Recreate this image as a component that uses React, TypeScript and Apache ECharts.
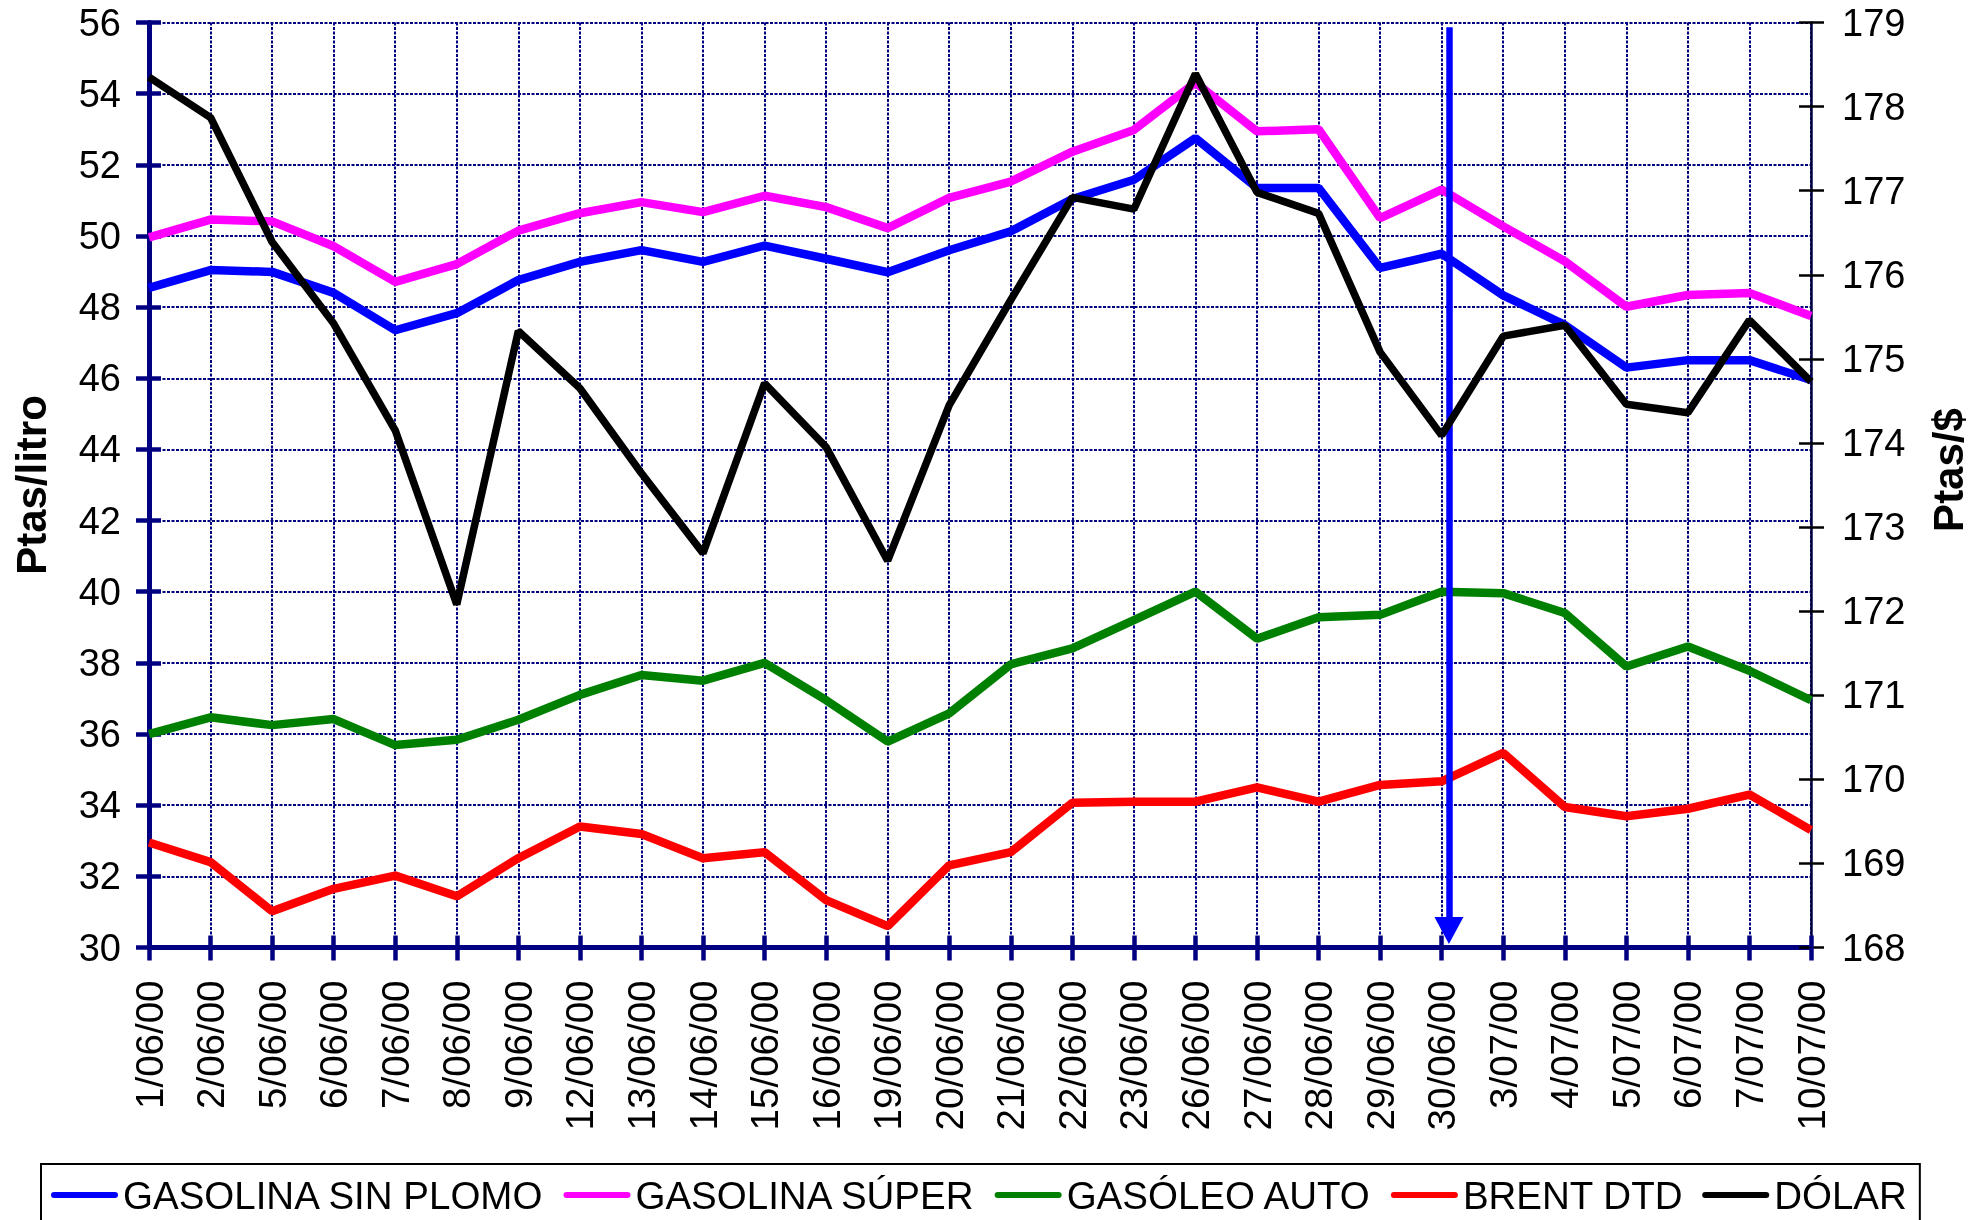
import React, { useEffect, useRef } from "react";
import * as echarts from "echarts";

const categories = ["1/06/00","2/06/00","5/06/00","6/06/00","7/06/00","8/06/00","9/06/00","12/06/00","13/06/00","14/06/00","15/06/00","16/06/00","19/06/00","20/06/00","21/06/00","22/06/00","23/06/00","26/06/00","27/06/00","28/06/00","29/06/00","30/06/00","3/07/00","4/07/00","5/07/00","6/07/00","7/07/00","10/07/00"];

const sinPlomo = [48.54, 49.04, 48.99, 48.40, 47.35, 47.83, 48.76, 49.27, 49.60, 49.27, 49.73, 49.36, 48.98, 49.60, 50.13, 51.04, 51.58, 52.75, 51.35, 51.35, 49.10, 49.50, 48.33, 47.50, 46.30, 46.51, 46.51, 45.95];
const superG = [49.96, 50.46, 50.41, 49.71, 48.71, 49.21, 50.15, 50.64, 50.95, 50.67, 51.13, 50.81, 50.22, 51.07, 51.53, 52.37, 52.98, 54.31, 52.94, 53.00, 50.50, 51.30, 50.27, 49.29, 48.01, 48.34, 48.40, 47.75];
const gasoleo = [36.0, 36.47, 36.25, 36.42, 35.69, 35.84, 36.40, 37.10, 37.66, 37.50, 38.0, 36.95, 35.79, 36.58, 37.96, 38.41, 39.20, 40.0, 38.68, 39.28, 39.35, 40.0, 39.96, 39.40, 37.90, 38.46, 37.78, 36.95];
const brent = [32.95, 32.40, 31.02, 31.65, 32.02, 31.44, 32.51, 33.40, 33.19, 32.51, 32.68, 31.33, 30.60, 32.31, 32.68, 34.07, 34.10, 34.10, 34.50, 34.10, 34.57, 34.67, 35.47, 33.95, 33.69, 33.90, 34.30, 33.30];
const dolar = [178.35, 177.87, 176.39, 175.42, 174.15, 172.08, 175.33, 174.65, 173.64, 172.69, 174.71, 173.95, 172.60, 174.45, 175.70, 176.92, 176.78, 178.39, 176.98, 176.73, 175.08, 174.09, 175.27, 175.40, 174.46, 174.36, 175.46, 174.73];

const seriesNames = ["GASOLINA SIN PLOMO", "GASOLINA SÚPER", "GASÓLEO AUTO", "BRENT DTD", "DÓLAR"];
const seriesColors = ["#0000FF", "#FF00FF", "#008000", "#FF0000", "#000000"];

const leftMin = 30, leftMax = 56, leftInterval = 2;
const rightMin = 168, rightMax = 179, rightInterval = 1;
// arrow marks the date 30/06/00, drawn slightly to the right of its tick
const arrowCategory = 21;
const arrowShift = 0.118;
const arrowTop = 55.87;

const FONT = "'Liberation Sans', Arial, sans-serif";
const NAVY = "#000080";
const LEGEND_ICON = "path://M3,0 H64 A3,3 0 0 1 64,6 H3 A3,3 0 0 1 3,0 Z";

export default function App() {
  const ref = useRef<HTMLDivElement>(null);
  useEffect(() => {
    if (!ref.current) return;
    const chart = echarts.init(ref.current, null, { renderer: "svg" });
    const gridPos = { left: 149, right: 175, top: 22.5, bottom: 272.5, containLabel: false };
    const values = [sinPlomo, superG, gasoleo, brent, dolar];
    const series: any[] = values.map((d, i) => ({
      name: seriesNames[i],
      type: "line",
      data: d,
      xAxisIndex: 0,
      yAxisIndex: i === 4 ? 1 : 0,
      symbol: "none",
      showSymbol: false,
      lineStyle: { color: seriesColors[i], width: i === 4 ? 7.5 : 8.5 },
      emphasis: { disabled: true },
      itemStyle: { color: seriesColors[i] },
      z: i === 4 ? 5 : 3,
    }));
    const grid = { color: NAVY, width: 2, type: [3, 1.5] };
    chart.setOption({
      animation: false,
      textStyle: { fontFamily: FONT },
      grid: [gridPos, gridPos],
      legend: {
        left: 41,
        top: 1164,
        orient: "horizontal",
        icon: LEGEND_ICON,
        itemWidth: 67,
        itemHeight: 7,
        itemGap: 19,
        padding: [11, 13, 30, 10],
        borderColor: "#000",
        borderWidth: 2,
        backgroundColor: "#fff",
        data: seriesNames,
        textStyle: { fontFamily: FONT, fontSize: 38.5, color: "#000", lineHeight: 40 },
      },
      xAxis: [
        {
          type: "category",
          gridIndex: 0,
          data: categories,
          boundaryGap: false,
          position: "bottom",
          axisLine: { show: true, lineStyle: { color: NAVY, width: 5 } },
          axisTick: { show: true, inside: false, length: 13, lineStyle: { color: NAVY, width: 4.5 } },
          axisLabel: { rotate: 90, fontSize: 38.5, color: "#000", margin: 33, interval: 0, fontFamily: FONT },
          splitLine: { show: true, lineStyle: grid },
        },
        {
          type: "category",
          gridIndex: 1,
          data: categories,
          boundaryGap: false,
          position: "bottom",
          axisLine: { show: false },
          axisTick: { show: true, inside: true, length: 12, lineStyle: { color: NAVY, width: 4.5 } },
          axisLabel: { show: false },
          splitLine: { show: false },
        },
      ],
      yAxis: [
        {
          type: "value",
          gridIndex: 0,
          position: "left",
          min: leftMin,
          max: leftMax,
          interval: leftInterval,
          name: "Ptas/litro",
          nameLocation: "middle",
          nameRotate: 90,
          nameGap: 97,
          nameTextStyle: { fontSize: 42, fontWeight: "bold", color: "#000", fontFamily: FONT },
          axisLine: { show: true, lineStyle: { color: NAVY, width: 5 } },
          axisTick: { show: true, inside: false, length: 13, lineStyle: { color: NAVY, width: 4.5 } },
          axisLabel: { fontSize: 38, color: "#000", margin: 28, fontFamily: FONT },
          splitLine: { show: true, lineStyle: grid },
        },
        {
          type: "value",
          gridIndex: 0,
          position: "right",
          min: rightMin,
          max: rightMax,
          interval: rightInterval,
          name: "Ptas/$",
          nameLocation: "middle",
          nameRotate: 90,
          nameGap: 116,
          nameTextStyle: { fontSize: 42, fontWeight: "bold", color: "#000", fontFamily: FONT, padding: [0, 0, 0, 30] },
          axisLine: { show: true, lineStyle: { color: "#000040", width: 2.5 } },
          axisTick: { show: true, inside: false, length: 13, lineStyle: { color: "#000", width: 2.5 } },
          axisLabel: { fontSize: 38, color: "#000", margin: 31, fontFamily: FONT },
          splitLine: { show: false },
        },
        {
          type: "value",
          gridIndex: 1,
          position: "left",
          min: leftMin,
          max: leftMax,
          interval: leftInterval,
          axisLine: { show: false },
          axisTick: { show: true, inside: true, length: 12, lineStyle: { color: NAVY, width: 4.5 } },
          axisLabel: { show: false },
          splitLine: { show: false },
        },
        {
          type: "value",
          gridIndex: 1,
          position: "right",
          min: rightMin,
          max: rightMax,
          interval: rightInterval,
          axisLine: { show: false },
          axisTick: { show: true, inside: true, length: 12, lineStyle: { color: "#000", width: 2.5 } },
          axisLabel: { show: false },
          splitLine: { show: false },
        },
      ],
      series,
    });

    const a = chart.convertToPixel({ xAxisIndex: 0, yAxisIndex: 0 }, [arrowCategory, arrowTop]) as number[];
    const b = chart.convertToPixel({ xAxisIndex: 0, yAxisIndex: 0 }, [arrowCategory + 1, leftMin]) as number[];
    if (a && b) {
      const x = a[0] + arrowShift * (b[0] - a[0]);
      chart.setOption({
        series: [
          {
            markLine: {
              silent: true,
              symbol: ["none", "triangle"],
              symbolSize: [29, 27],
              label: { show: false },
              lineStyle: { color: "#0000FF", width: 6.5, type: "solid" },
              data: [[{ x, y: a[1] }, { x, y: b[1] - 17 }]],
            },
          },
        ],
      });
    }
    return () => chart.dispose();
  }, []);
  return <div ref={ref} style={{ position: "fixed", left: 0, top: 0, width: 1986, height: 1220 }} />;
}
